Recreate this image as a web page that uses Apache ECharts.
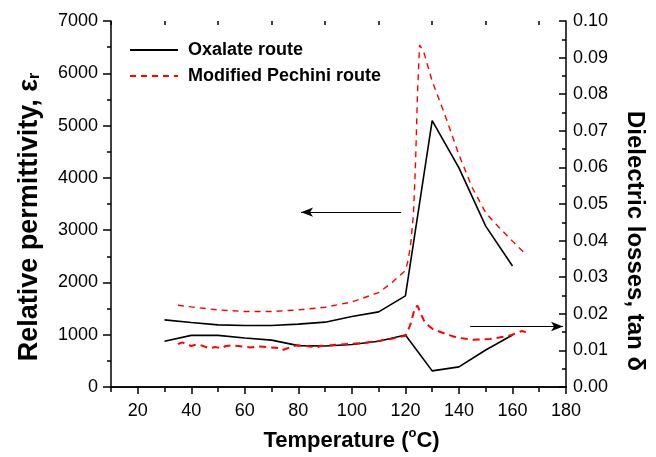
<!DOCTYPE html>
<html>
<head>
<meta charset="utf-8">
<script src="https://cdn.jsdelivr.net/npm/echarts@6/dist/echarts.min.js"></script>
<style>
  html, body { margin: 0; padding: 0; background: #fff; }
  #chart { width: 656px; height: 457px; }
</style>
</head>
<body>
<div id="chart"></div>
<script>
  // oxalate route
  var tempOx = [30, 40, 50, 60, 70, 80, 90, 100, 110, 120, 130, 140, 150, 160];
  var epsOx = [1284, 1234, 1189, 1176, 1176, 1202, 1240, 1348, 1437, 1742, 5093, 4191, 3077, 2314];
  var tanOx = [0.0125, 0.0141, 0.0141, 0.0134, 0.0128, 0.0113, 0.0112, 0.0116, 0.0125, 0.0142, 0.0044, 0.0055, 0.0101, 0.0142];

  // modified pechini route
  var tempPeEps = [35, 40, 50, 60, 70, 80, 90, 100, 110, 115, 120, 121, 122, 123, 123.8, 124.5, 125.3, 126, 127, 130, 135, 140, 145, 150, 155, 160, 165];
  var epsPe = [1564, 1532, 1474, 1444, 1444, 1474, 1526, 1627, 1806, 1997, 2230, 2420, 2750, 3300, 4300, 5600, 6540, 6480, 6380, 5850, 5170, 4440, 3810, 3332, 3050, 2790, 2537];
  var tempPeTan = [35, 36.6, 38, 40, 42, 44, 46.7, 49, 51, 53, 55, 57.5, 60, 62, 65, 67, 70, 73, 74, 76, 78, 80, 83, 85, 87, 88.5, 90, 93, 96, 100, 105, 110, 115, 120, 121.7, 123.6, 124.5, 125.5, 127.3, 130.3, 135.4, 139.2, 145.4, 151.6, 155, 159.7, 163.5, 165];
  var tanPe = [0.0117, 0.0122, 0.0118, 0.0112, 0.0116, 0.0113, 0.0106, 0.0109, 0.0106, 0.0112, 0.0114, 0.0112, 0.0110, 0.0108, 0.0111, 0.0110, 0.0108, 0.0106, 0.0101, 0.0106, 0.0112, 0.0114, 0.0112, 0.0110, 0.0108, 0.0113, 0.0112, 0.0115, 0.0116, 0.0118, 0.0121, 0.0126, 0.0132, 0.0140, 0.0167, 0.0217, 0.0222, 0.0204, 0.0176, 0.0158, 0.0144, 0.0135, 0.0129, 0.0131, 0.0135, 0.0142, 0.0153, 0.0150];

  // axis ticks
  var majorX = [20, 40, 60, 80, 100, 120, 140, 160, 180];
  var minorX = [10, 30, 50, 70, 90, 110, 130, 150, 170];

  // arrow annotations [x0, x1, y]
  var arrowLeft = [118.4, 81, 3344];
  var arrowRight = [144.2, 178.9, 0.01654];

  function pairs(xs, ys) {
    return xs.map(function (x, i) { return [x, ys[i]]; });
  }

  var font = 'Liberation Sans, Arial, sans-serif';
  var black = '#000';
  var red = '#ff0000';
  var gridBox = { left: 111, right: 90, top: 21, bottom: 69 };

  var chart = echarts.init(document.getElementById('chart'));
  var option = {
    animation: false,
    backgroundColor: '#fff',
    textStyle: { fontFamily: font },
    grid: [
      Object.assign({ containLabel: false }, gridBox),
      Object.assign({ containLabel: false }, gridBox)
    ],
    legend: {
      data: ['Oxalate route', 'Modified Pechini route'],
      orient: 'vertical',
      left: 129,
      top: 41,
      padding: 0,
      itemWidth: 48,
      itemHeight: 14,
      itemGap: 8,
      itemStyle: { opacity: 0 },
      textStyle: { fontFamily: font, fontSize: 18, fontWeight: 'bold', color: black, padding: [0, 0, 0, 5] }
    },
    xAxis: [
      {
        gridIndex: 0, type: 'value', position: 'bottom', min: 10, max: 180, interval: 10,
        name: 'Temperature ({sup|o}C)', nameLocation: 'middle', nameGap: 40,
        nameTextStyle: {
          fontFamily: font, fontSize: 22, fontWeight: 'bold', color: black, padding: [0, 0, 0, 26],
          rich: { sup: { fontFamily: font, fontSize: 13, fontWeight: 'bold', color: black, verticalAlign: 'top', lineHeight: 28 } }
        },
        axisLine: { lineStyle: { color: black, width: 1.5 } },
        axisTick: { customValues: majorX, length: 7, lineStyle: { color: black, width: 1.5 } },
        axisLabel: { customValues: majorX, fontFamily: font, fontSize: 18, color: black, margin: 15 },
        splitLine: { show: false }
      },
      {
        gridIndex: 0, type: 'value', position: 'top', min: 10, max: 180, interval: 10,
        axisLine: { lineStyle: { color: black, width: 1.5 } },
        axisTick: { inside: true, customValues: majorX, length: 7, lineStyle: { color: black, width: 1.5 } },
        axisLabel: { show: false },
        splitLine: { show: false }
      },
      {
        gridIndex: 1, type: 'value', position: 'bottom', min: 10, max: 180, interval: 10,
        axisLine: { show: false },
        axisTick: { customValues: minorX, length: 4, lineStyle: { color: black, width: 1.5 } },
        axisLabel: { show: false },
        splitLine: { show: false }
      },
      {
        gridIndex: 1, type: 'value', position: 'top', min: 10, max: 180, interval: 10,
        axisLine: { show: false },
        axisTick: { inside: true, customValues: minorX, length: 4, lineStyle: { color: black, width: 1.5 } },
        axisLabel: { show: false },
        splitLine: { show: false }
      }
    ],
    yAxis: [
      {
        gridIndex: 0, type: 'value', position: 'left', min: 0, max: 7000, interval: 1000,
        name: 'Relative permittivity, ε{sub|r}', nameLocation: 'middle', nameGap: 68, nameRotate: 90,
        nameTextStyle: {
          fontFamily: font, fontSize: 27, fontWeight: 'bold', color: black, padding: [0, 26, 0, 0],
          rich: { sub: { fontFamily: font, fontSize: 16, fontWeight: 'bold', color: black, verticalAlign: 'bottom', lineHeight: 14 } }
        },
        axisLine: { show: true, lineStyle: { color: black, width: 1.5 } },
        axisTick: { show: true, length: 8, lineStyle: { color: black, width: 1.5 } },
        minorTick: { show: true, splitNumber: 2, length: 4, lineStyle: { color: black, width: 1.5 } },
        axisLabel: {
          fontFamily: font, fontSize: 18, color: black, margin: 13,
          formatter: function (v) { return String(v); }
        },
        splitLine: { show: false }
      },
      {
        gridIndex: 0, type: 'value', position: 'right', min: 0, max: 0.1, interval: 0.01,
        name: 'Dielectric losses, tan δ', nameLocation: 'middle', nameGap: 57, nameRotate: -90,
        nameTextStyle: { fontFamily: font, fontSize: 24, fontWeight: 'bold', color: black, padding: [0, 0, 0, 74] },
        axisLine: { show: true, lineStyle: { color: black, width: 1.5 } },
        axisTick: { show: true, inside: true, length: 7, lineStyle: { color: black, width: 1.5 } },
        minorTick: { show: true, splitNumber: 2, length: 4, lineStyle: { color: black, width: 1.5 } },
        axisLabel: {
          fontFamily: font, fontSize: 18, color: black, margin: 7,
          formatter: function (v) { return v.toFixed(2); }
        },
        splitLine: { show: false }
      },
      {
        gridIndex: 1, type: 'value', min: 0, max: 7000, show: false
      }
    ],
    series: [
      {
        name: 'Oxalate route', type: 'line', xAxisIndex: 0, yAxisIndex: 0,
        data: pairs(tempOx, epsOx), symbol: 'none', showSymbol: false,
        lineStyle: { color: black, width: 1.6 }, itemStyle: { color: black },
        markLine: {
          silent: true, symbol: ['none', 'arrow'], symbolSize: [7, 12],
          label: { show: false },
          lineStyle: { color: black, width: 1, type: 'solid' },
          data: [[{ coord: [arrowLeft[0], arrowLeft[2]] }, { coord: [arrowLeft[1], arrowLeft[2]] }]]
        }
      },
      {
        name: 'Modified Pechini route', type: 'line', xAxisIndex: 0, yAxisIndex: 0,
        data: pairs(tempPeEps, epsPe), symbol: 'none', showSymbol: false,
        lineStyle: { color: red, width: 1.4, type: [6, 5] }, itemStyle: { color: red }
      },
      {
        name: 'Oxalate tan', type: 'line', xAxisIndex: 0, yAxisIndex: 1,
        data: pairs(tempOx, tanOx), symbol: 'none', showSymbol: false,
        lineStyle: { color: black, width: 1.6 }, itemStyle: { color: black },
        markLine: {
          silent: true, symbol: ['none', 'arrow'], symbolSize: [7, 12],
          label: { show: false },
          lineStyle: { color: black, width: 1, type: 'solid' },
          data: [[{ coord: [arrowRight[0], arrowRight[2]] }, { coord: [arrowRight[1], arrowRight[2]] }]]
        }
      },
      {
        name: 'Pechini tan', type: 'line', xAxisIndex: 0, yAxisIndex: 1,
        data: pairs(tempPeTan, tanPe), symbol: 'none', showSymbol: false,
        lineStyle: { color: red, width: 2, type: [7, 5] }, itemStyle: { color: red }
      }
    ]
  };
  chart.setOption(option);
</script>
</body>
</html>
